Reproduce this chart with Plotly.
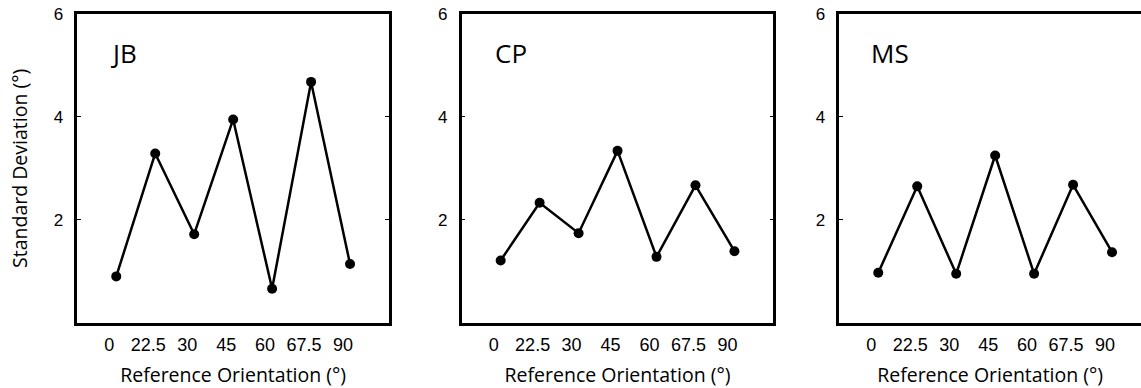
import plotly.graph_objects as go

# ---- data ----
orientation_labels = ["0", "22.5", "30", "45", "60", "67.5", "90"]
positions = [0, 1, 2, 3, 4, 5, 6]
jb_sd = [0.90, 3.29, 1.72, 3.95, 0.66, 4.68, 1.14]
cp_sd = [1.21, 2.33, 1.74, 3.34, 1.28, 2.67, 1.39]
ms_sd = [0.97, 2.65, 0.95, 3.25, 0.95, 2.68, 1.37]
observers = ["JB", "CP", "MS"]
series = [jb_sd, cp_sd, ms_sd]
y_ticks = [2, 4, 6]
x_tick_marks = [1, 3, 5]

# ---- geometry (pixels) ----
W, H = 1141, 388
panel_left = [77.3, 461.7, 839.3]
panel_w = 311.7
top_px, bot_px = 14, 322.7

TICK_FONT = dict(family="Liberation Sans, Arial", size=18, color="black")
TITLE_FONT = dict(family="Open Sans", size=19.5, color="black")

fig = go.Figure()
layout = dict(
    width=W, height=H, margin=dict(l=0, r=0, t=0, b=0, autoexpand=False),
    paper_bgcolor="white", plot_bgcolor="white", showlegend=False,
    annotations=[],
)

ydom = [1 - bot_px / H, 1 - top_px / H]
for i, (name, vals) in enumerate(zip(observers, series)):
    n = i + 1
    sfx = "" if n == 1 else str(n)
    x0 = panel_left[i] / W
    x1 = min(1.0, (panel_left[i] + panel_w) / W)
    span = (x1 * W - panel_left[i]) / panel_w * 8
    xr = [-1, -1 + span]

    fig.add_trace(go.Scatter(
        x=positions, y=vals, mode="lines+markers",
        xaxis="x" + sfx, yaxis="y" + sfx,
        line=dict(color="black", width=2.5),
        marker=dict(color="black", size=10),
        hoverinfo="skip",
    ))

    layout["xaxis" + sfx] = dict(
        domain=[x0, x1], range=xr, anchor="y" + sfx, automargin=False,
        tickmode="array", tickvals=positions, ticktext=orientation_labels,
        ticks="", showgrid=False, zeroline=False,
        showline=True, linecolor="black", linewidth=2.5, mirror=True,
        tickfont=TICK_FONT, ticklabelshift=-7, ticklabelstandoff=4,
        title=dict(text="Reference Orientation (°)", font=TITLE_FONT, standoff=16),
        fixedrange=True,
    )
    # overlay axis carrying only the tick marks at 22.5 / 45 / 67.5
    ov = str(n + 3)
    layout["xaxis" + ov] = dict(
        domain=[x0, x1], range=xr, anchor="y" + sfx, overlaying="x" + sfx,
        automargin=False,
        tickmode="array", tickvals=x_tick_marks, showticklabels=False,
        ticks="inside", ticklen=4, tickwidth=1, tickcolor="black",
        showgrid=False, zeroline=False, showline=False, mirror="ticks",
        fixedrange=True,
    )
    layout["yaxis" + sfx] = dict(
        domain=ydom, range=[0, 6], anchor="x" + sfx, automargin=False,
        tickmode="array", tickvals=y_ticks, ticktext=[str(v) for v in y_ticks],
        ticks="inside", ticklen=4, tickwidth=1, tickcolor="black",
        showgrid=False, zeroline=False,
        showline=True, linecolor="black", linewidth=2.5,
        mirror=("ticks" if n < 3 else False),
        tickfont=dict(family="Liberation Sans, Arial", size=17, color="black"),
        ticklabelstandoff=8,
        fixedrange=True,
    )
    if n == 1:
        layout["yaxis"]["title"] = dict(text="Standard Deviation (°)", font=TITLE_FONT, standoff=21)

    layout["annotations"].append(dict(
        text=name, xref=("x" + sfx + " domain"), yref=("y" + sfx + " domain"),
        x=31 / panel_w, y=1 - 39 / (bot_px - top_px),
        xanchor="left", yanchor="middle", showarrow=False,
        font=dict(family="Open Sans", size=26, color="black"),
    ))

fig.update_layout(**layout)
fig.write_html("out.html")
